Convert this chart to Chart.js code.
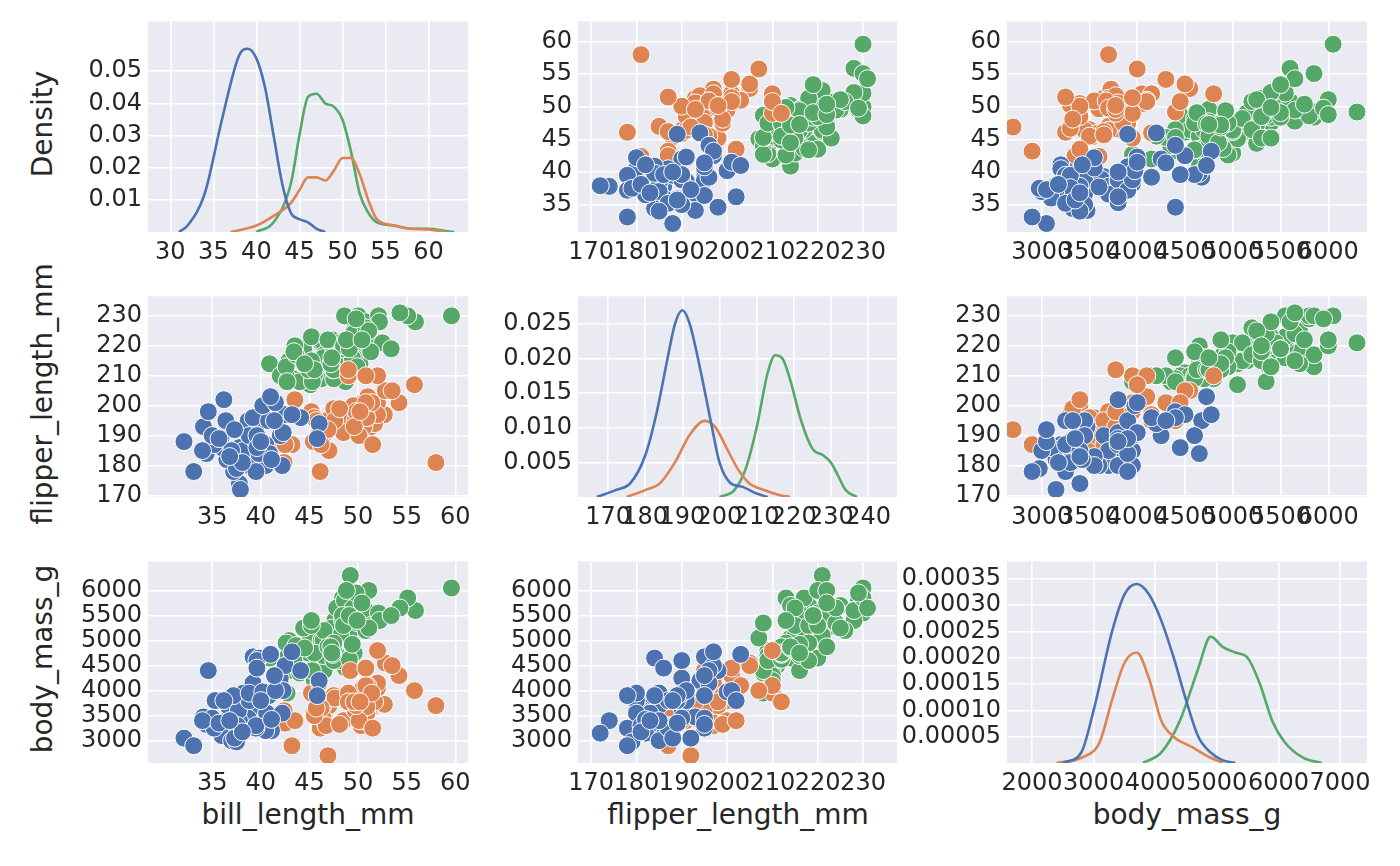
<!DOCTYPE html>
<html>
<head>
<meta charset="utf-8">
<script src="https://cdn.jsdelivr.net/npm/chart.js@4/dist/chart.umd.min.js"></script>
<style>
  body { margin: 0; background: #fff; width: 1400px; height: 866px; position: relative; overflow: hidden; font-family: "DejaVu Sans", sans-serif; }
  .panel { position: absolute; }
  .lbl { position: absolute; font-size: 28px; color: #262626; white-space: nowrap; }
  .rot { transform: translate(-50%, -50%) rotate(-90deg); }
  .hx { transform: translateX(-50%); }
</style>
</head>
<body>
<div class="lbl rot" style="left:42px;top:124px">Density</div>
<div class="lbl rot" style="left:42px;top:394px">flipper_length_mm</div>
<div class="lbl rot" style="left:42px;top:659px">body_mass_g</div>
<div class="lbl hx" style="left:308px;top:798px">bill_length_mm</div>
<div class="lbl hx" style="left:738px;top:798px">flipper_length_mm</div>
<div class="lbl hx" style="left:1187px;top:798px">body_mass_g</div>
<script>
// [bill_length_mm, flipper_length_mm, body_mass_g]
const adelie = [
    [39.1,181,3750],[39.5,186,3800],[40.3,195,3250],[36.7,193,3450],[39.3,190,3650],[38.9,181,3625],
    [39.2,195,4675],[34.1,193,3475],[42.0,190,4250],[37.8,186,3300],[37.8,180,3700],[41.1,182,3200],
    [38.6,191,3800],[34.6,198,4400],[36.6,185,3700],[38.7,195,3450],[42.5,197,4500],[34.4,184,3325],
    [46.0,194,4200],[37.8,174,3400],[37.7,180,3600],[35.9,189,3800],[38.2,185,3950],[38.8,180,3800],
    [35.3,187,3800],[40.6,183,3550],[40.5,187,3200],[37.9,172,3150],[40.5,180,3950],[39.5,178,3250],
    [37.2,178,3900],[39.5,188,3300],[40.9,184,3900],[36.4,195,3325],[39.2,196,4150],[38.8,190,3950],
    [42.2,180,3550],[37.6,181,3300],[39.8,184,4650],[36.5,182,3150],[40.8,195,3900],[36.0,186,3100],
    [44.1,196,4400],[37.0,185,3000],[39.6,190,4600],[41.1,182,3425],[37.5,179,2975],[42.3,191,4000],
    [39.6,186,4450],[40.2,200,3975],[35.2,187,3250],[41.5,201,4000],[32.1,188,3050],[33.1,178,2900],
    [35.0,190,3450],[34.0,185,3400],[43.2,197,4775],[45.8,189,3900],[36.2,202,3800],[41.0,203,4725],
    [37.3,192,3050],[35.7,189,3350],[38.1,181,3175],[40.0,188,3800],[41.4,195,4300],[36.8,183,3400]
];
const chinstrap = [
    [46.5,192,3500],[50.0,196,3900],[51.3,193,3650],[45.4,188,3525],[52.7,197,3725],[45.2,198,3950],
    [46.1,178,3250],[51.3,197,3750],[46.0,195,4150],[51.3,198,3700],[46.6,193,3800],[51.7,194,3775],
    [47.0,185,3700],[52.0,201,4050],[45.9,190,3575],[50.5,201,4050],[50.3,197,3300],[58.0,181,3700],
    [46.4,190,3450],[49.2,195,4400],[42.4,181,3600],[48.5,191,3400],[43.2,187,2900],[50.6,193,3800],
    [46.7,195,3300],[52.0,197,4150],[50.5,200,3400],[49.5,200,3800],[46.4,191,3700],[52.8,205,4550],
    [40.9,187,3200],[54.2,201,4300],[42.5,187,3350],[51.0,203,4100],[49.7,195,3600],[47.5,199,3900],
    [47.6,195,3850],[52.0,210,4800],[46.9,192,2700],[53.5,205,4500],[49.0,210,3950],[46.2,187,3650],
    [50.9,196,3550],[45.5,196,3500],[50.9,196,3675],[50.8,210,4100],[50.1,190,3400],[49.0,212,3775],
    [51.5,187,3250],[49.8,198,3700],[48.1,199,3325],[51.4,201,3950],[45.7,195,3650],[55.8,207,4000],
    [43.5,202,3400],[49.6,193,3775],[50.8,201,4450],[50.2,198,3775]
];
const gentoo = [
    [46.1,211,4500],[50.0,230,5700],[48.7,210,4450],[50.0,218,5700],[47.6,215,5400],[46.5,210,4550],
    [45.4,211,4800],[46.7,219,5200],[43.3,209,4400],[46.8,215,5150],[40.9,214,4650],[49.0,216,5550],
    [45.5,214,4650],[48.4,213,5850],[45.8,210,4200],[49.3,217,5850],[42.0,210,4150],[49.2,221,6300],
    [46.2,209,4800],[48.7,214,5350],[50.2,214,5700],[45.1,215,5000],[46.5,216,4400],[46.3,214,5050],
    [42.9,215,5000],[46.1,215,5100],[47.8,215,5650],[48.2,210,4600],[50.0,220,5550],[47.3,222,5250],
    [42.8,209,4700],[45.1,207,5050],[59.6,230,6050],[49.1,220,5150],[48.4,220,5400],[42.6,213,4950],
    [44.4,219,5250],[44.0,208,4350],[48.7,208,5350],[42.7,208,3950],[49.6,225,5700],[45.3,210,4300],
    [49.6,216,4750],[50.5,222,5550],[43.6,217,4900],[45.5,210,4200],[50.4,224,5350],[45.3,208,4400],
    [46.2,221,5000],[49.5,229,5800],[43.5,220,4650],[50.7,223,5550],[47.7,216,4750],[46.4,221,5000],
    [48.2,221,5100],[46.5,217,5200],[46.4,216,4700],[48.6,230,5800],[47.5,209,4600],[51.1,220,6000],
    [45.2,215,5300],[45.2,223,5400],[49.1,212,4625],[52.5,221,5450],[47.4,212,4725],[50.0,224,5350],
    [44.9,212,4750],[50.8,228,5600],[43.4,218,4600],[51.3,218,5300],[47.5,212,4875],[52.1,230,5550],
    [47.5,218,4950],[52.2,228,5400],[45.5,212,4750],[49.5,224,5650],[44.5,214,4850],[50.8,226,5200],
    [49.4,216,4925],[46.9,222,4875],[48.4,219,5500],[51.1,225,5250],[48.5,220,5300],[55.9,228,5600],
    [47.2,214,4875],[49.1,219,5500],[47.3,216,4750],[55.1,230,5850],[54.3,231,5650],[49.8,229,5950],
    [53.4,219,5500],[48.8,222,6000],[50.4,222,5750],[49.9,213,5400]
];

// KDE curves
const billKdeX = {
    adelie:    [31,32,34,36,38,39,40,41,42,43,44,45,46,47,48],
    chinstrap: [37,40,42,44,45,46,47,48,49,50,51,52,53,54,56,58,60,62],
    gentoo:    [40,42,44,45,46,47,48,49,50,51,52,53,54,56,58,60,62,63]
};
const billKdeY = {
    adelie:    [0,0.002,0.012,0.035,0.055,0.057,0.054,0.045,0.03,0.015,0.006,0.004,0.003,0.001,0],
    chinstrap: [0,0.002,0.005,0.009,0.013,0.017,0.017,0.016,0.019,0.023,0.023,0.018,0.01,0.004,0.002,0.001,0.0008,0],
    gentoo:    [0,0.003,0.015,0.03,0.042,0.043,0.04,0.039,0.035,0.025,0.012,0.006,0.003,0.002,0.001,0.001,0.0003,0]
};
const flipperKdeX = {
    adelie:    [167,172,176,180,183,186,188,190,192,195,198,200,203,206,210,213],
    chinstrap: [175,180,184,188,192,196,199,202,205,208,212,216,219],
    gentoo:    [200,204,207,210,213,215,217,219,222,225,228,230,232,234,237]
};
const flipperKdeY = {
    adelie:    [0,0.001,0.002,0.006,0.012,0.02,0.025,0.027,0.025,0.018,0.01,0.005,0.002,0.0015,0.0005,0],
    chinstrap: [0,0.001,0.002,0.005,0.009,0.011,0.01,0.007,0.004,0.002,0.001,0.0003,0],
    gentoo:    [0,0.001,0.004,0.01,0.018,0.0205,0.02,0.017,0.011,0.007,0.006,0.005,0.003,0.001,0]
};
const massKdeX = {
    adelie:    [2500,2800,3000,3300,3500,3700,3900,4100,4300,4500,4700,4900,5100,5300],
    chinstrap: [2400,2800,3100,3300,3500,3700,3900,4100,4300,4600,4900,5100],
    gentoo:    [3800,4100,4400,4700,4900,5100,5300,5500,5700,5900,6100,6400,6700]
};
const massKdeY = {
    adelie:    [0,0.00002,0.0001,0.00025,0.00032,0.00034,0.00032,0.00027,0.0002,0.00012,0.00005,0.00002,0.000005,0],
    chinstrap: [0,0.00001,0.00004,0.00012,0.00019,0.00021,0.00016,0.00008,0.00005,0.00003,0.00001,0],
    gentoo:    [0,0.00002,0.00008,0.00018,0.00024,0.00022,0.00021,0.0002,0.00015,0.00008,0.00004,0.00001,0]
};

const billTicks = [35,40,45,50,55,60];
const billKdeTicks = [30,35,40,45,50,55,60];
const flipperTicks = [170,180,190,200,210,220,230];
const flipperKdeTicks = [170,180,190,200,210,220,230,240];
const massTicks = [3000,3500,4000,4500,5000,5500,6000];
const massKdeTicks = [2000,3000,4000,5000,6000,7000];
const densBillTicks = [0.01,0.02,0.03,0.04,0.05];
const densFlipperTicks = [0.005,0.010,0.015,0.020,0.025];
const densMassTicks = [0.00005,0.0001,0.00015,0.0002,0.00025,0.0003,0.00035];

const SPECIES = ['adelie','chinstrap','gentoo'];
const COLORES = { adelie: '#4c72b0', chinstrap: '#dd8452', gentoo: '#55a868' };
const POINTS = { adelie: adelie, chinstrap: chinstrap, gentoo: gentoo };
const L = 140, B = 52, T = 14, R = 45;

function axis(min, max, ticks, decimals, isY) {
    return {
        type: 'linear', min: min, max: max,
        grid: { color: '#ffffff', lineWidth: 1.6, drawTicks: false },
        border: { display: false },
        ticks: {
            color: '#262626', font: { family: 'DejaVu Sans', size: 24 }, padding: 6,
            autoSkip: false, maxRotation: 0,
            callback: v => decimals ? v.toFixed(decimals) : String(v)
        },
        afterBuildTicks: s => { s.ticks = ticks.map(v => ({ value: v })); },
        afterFit: s => { if (isY) s.width = L; else s.height = B; }
    };
}

function scatterSets(xi, yi) {
    return SPECIES.map(sp => ({
        data: POINTS[sp].map(p => ({ x: p[xi], y: p[yi] })),
        backgroundColor: COLORES[sp], borderColor: '#ffffff', borderWidth: 1,
        pointRadius: 9, pointHoverRadius: 9
    }));
}

function kdeSets(xs, ys) {
    return SPECIES.map(sp => ({
        data: xs[sp].map((x, i) => ({ x: x, y: ys[sp][i] })),
        showLine: true, borderColor: COLORES[sp], borderWidth: 2.6,
        pointRadius: 0, tension: 0.4, cubicInterpolationMode: 'monotone'
    }));
}

function panel(left, top, w, h, xAx, yAx, datasets) {
    const div = document.createElement('div');
    div.className = 'panel';
    div.style.left = (left - L) + 'px';
    div.style.top = (top - T) + 'px';
    div.style.width = (w + L + R) + 'px';
    div.style.height = (h + T + B) + 'px';
    const cv = document.createElement('canvas');
    div.appendChild(cv);
    document.body.appendChild(div);
    new Chart(cv, {
        type: 'scatter',
        data: { datasets: datasets },
        options: {
            responsive: true, maintainAspectRatio: false, animation: false,
            layout: { padding: { top: T, right: R, left: 0, bottom: 0 } },
            plugins: { legend: { display: false }, tooltip: { enabled: false } },
            scales: { x: xAx, y: yAx }
        },
        plugins: [{
            id: 'bg',
            beforeDraw: c => {
                const a = c.chartArea, ctx = c.ctx;
                ctx.save(); ctx.fillStyle = '#eaeaf2';
                ctx.fillRect(a.left, a.top, a.right - a.left, a.bottom - a.top);
                ctx.restore();
            }
        }]
    });
}

const COLS = [[148, 320], [578, 319], [1007, 360]];
const ROWS = [[15, 217], [290, 207], [555, 208]];

// fila 1
panel(COLS[0][0], ROWS[0][0], COLS[0][1], ROWS[0][1],
    axis(27.4, 64.6, billKdeTicks, 0, false), axis(0, 0.0655, densBillTicks, 2, true),
    kdeSets(billKdeX, billKdeY));
panel(COLS[1][0], ROWS[0][0], COLS[1][1], ROWS[0][1],
    axis(167.1, 237.5, flipperTicks, 0, false), axis(30.8, 63.1, billTicks, 0, true),
    scatterSets(1, 0));
panel(COLS[2][0], ROWS[0][0], COLS[2][1], ROWS[0][1],
    axis(2637, 6405, massTicks, 0, false), axis(30.8, 63.1, billTicks, 0, true),
    scatterSets(2, 0));
// fila 2
panel(COLS[0][0], ROWS[1][0], COLS[0][1], ROWS[1][1],
    axis(28.4, 61.3, billTicks, 0, false), axis(169.5, 236.5, flipperTicks, 0, true),
    scatterSets(0, 1));
panel(COLS[1][0], ROWS[1][0], COLS[1][1], ROWS[1][1],
    axis(161.9, 247.8, flipperKdeTicks, 0, false), axis(0, 0.029, densFlipperTicks, 3, true),
    kdeSets(flipperKdeX, flipperKdeY));
panel(COLS[2][0], ROWS[1][0], COLS[2][1], ROWS[1][1],
    axis(2637, 6405, massTicks, 0, false), axis(169.5, 236.5, flipperTicks, 0, true),
    scatterSets(2, 1));
// fila 3
panel(COLS[0][0], ROWS[2][0], COLS[0][1], ROWS[2][1],
    axis(28.4, 61.3, billTicks, 0, false), axis(2554, 6581, massTicks, 0, true),
    scatterSets(0, 2));
panel(COLS[1][0], ROWS[2][0], COLS[1][1], ROWS[2][1],
    axis(167.1, 237.5, flipperTicks, 0, false), axis(2554, 6581, massTicks, 0, true),
    scatterSets(1, 2));
panel(COLS[2][0], ROWS[2][0], COLS[2][1], ROWS[2][1],
    axis(1594, 7438, massKdeTicks, 0, false), axis(0, 0.000383, densMassTicks, 5, true),
    kdeSets(massKdeX, massKdeY));
</script>
</body>
</html>
